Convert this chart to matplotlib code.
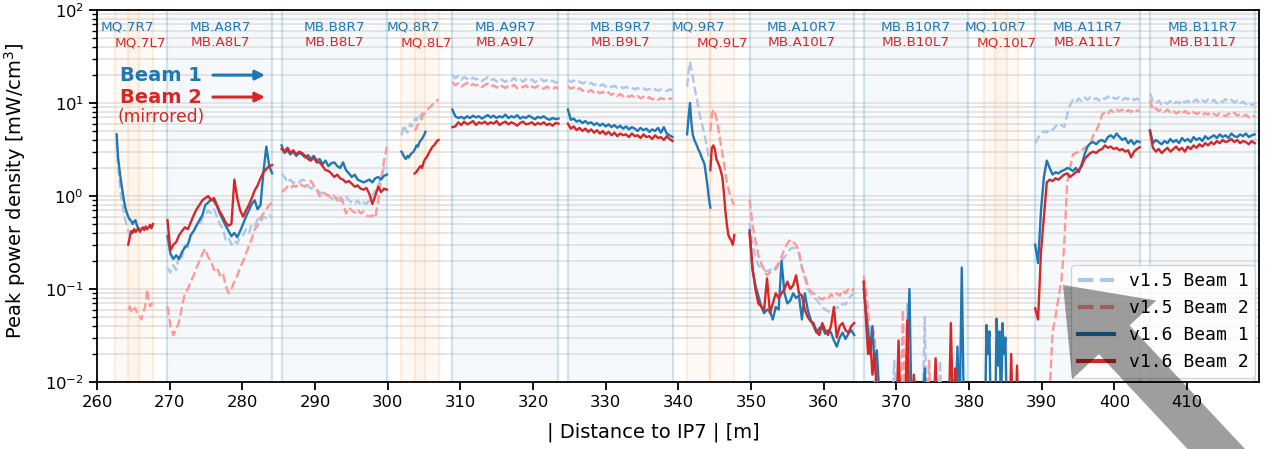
import numpy as np
import matplotlib
matplotlib.use("Agg")
import matplotlib.pyplot as plt
from matplotlib.patches import FancyArrow
from matplotlib.transforms import IdentityTransform, blended_transform_factory

# ---- element layout [m from IP7] ----
dipoles = [("A8", 269.7, 284.1), ("B8", 285.4, 299.9),
           ("A9", 308.9, 323.5), ("B9", 324.8, 339.2),
           ("A10", 349.8, 364.2), ("B10", 365.5, 379.9),
           ("A11", 389.1, 403.5), ("B11", 404.9, 419.3)]
quads_r7 = [("MQ.7R7", 262.5, 265.8), ("MQ.8R7", 301.9, 305.2),
            ("MQ.9R7", 341.2, 344.4), ("MQ.10R7", 382.0, 385.2)]
quads_l7 = [("MQ.7L7", 264.3, 267.7), ("MQ.8L7", 303.7, 307.0),
            ("MQ.9L7", 344.4, 347.7), ("MQ.10L7", 383.6, 386.8)]

# ---- peak power density [mW/cm3], evenly sampled between (start, end) ----
v15_b1 = [
    (262.7, 265.7, [3.8, 2.0, 1.4, 1.0, 0.8, 0.65, 0.55, 0.48, 0.42, 0.38,
                    0.4, 0.43, 0.41, 0.44, 0.4, 0.42]),
    (269.7, 284.1, [0.17, 0.15, 0.18, 0.16, 0.24, 0.22, 0.3, 0.28, 0.38, 0.42,
                    0.5, 0.48, 0.58, 0.62, 0.7, 0.65, 0.72, 0.6, 0.5, 0.45,
                    0.34, 0.36, 0.3, 0.33, 0.31, 0.36, 0.38, 0.44, 0.4, 0.5,
                    0.48, 0.56, 0.52, 0.6, 0.58, 0.62, 0.58]),
    (285.4, 299.9, [1.75, 1.6, 1.4, 1.5, 1.38, 1.45, 1.4, 1.5, 1.46, 1.3,
                    1.2, 1.25, 1.17, 1.1, 1.05, 0.99, 1.02, 0.95, 0.91, 0.95,
                    0.88, 0.91, 0.99, 0.9, 0.85, 0.82, 0.9, 0.8, 0.85, 0.82,
                    0.9, 1.0, 1.15, 1.3, 1.6, 2.0, 2.2]),
    (301.9, 305.2, [4.5, 5.2, 5.8, 5.0, 4.8, 5.5, 6.0, 5.6, 6.2, 6.8,
                    6.5, 7.2, 7.6, 7.0, 7.8, 8.2, 8.0]),
    (308.9, 323.5, [20, 18.5, 19.5, 17.8, 19.0, 18.2, 17.5, 18.8, 17.9, 18.5,
                    17.2, 18.0, 19.0, 17.5, 18.2, 17.0, 18.3, 17.6, 16.8, 18.0,
                    17.4, 18.6, 17.1, 17.8, 16.9, 18.1, 17.3, 17.9, 16.7, 17.5,
                    18.2, 17.0, 17.6, 16.8, 17.4, 16.5, 17.0]),
    (324.8, 339.2, [17.7, 16.8, 17.5, 16.5, 17.0, 16.2, 16.8, 15.9, 16.5, 15.6,
                    16.1, 15.3, 15.9, 15.0, 15.6, 14.8, 15.3, 14.6, 15.1, 14.4,
                    14.9, 14.3, 14.7, 14.0, 14.5, 13.9, 14.4, 13.8, 14.2, 13.6,
                    14.1, 13.5, 14.0, 13.8, 13.4, 14.0, 13.8]),
    (341.2, 344.4, [15, 22, 27.7, 23, 19, 15, 12.5, 10.5, 8.5, 7.1,
                    6.2, 5.3, 4.6, 3.8, 3.1, 2.6, 2.25]),
    (349.8, 364.2, [0.51, 0.3, 0.22, 0.18, 0.17, 0.16, 0.155, 0.16, 0.17, 0.16,
                    0.18, 0.2, 0.22, 0.24, 0.27, 0.28, 0.27, 0.24, 0.17, 0.13,
                    0.1, 0.09, 0.082, 0.077, 0.07, 0.064, 0.06, 0.058, 0.055, 0.06,
                    0.064, 0.062, 0.07, 0.068, 0.078, 0.085, 0.09]),
    (365.5, 379.9, [0.12, 0.07, 0.04, 0.025, 0.035, 0.012, 0.004, 0.004, 0.004, 0.004,
                    0.004, 0.004, 0.004, 0.004, 0.017, 0.004, 0.004, 0.004, 0.004, 0.004,
                    0.07, 0.004, 0.004, 0.004, 0.004, 0.004, 0.004, 0.004, 0.05, 0.004,
                    0.004, 0.004, 0.004, 0.004, 0.004, 0.017, 0.004, 0.004, 0.004, 0.004,
                    0.004, 0.004, 0.004, 0.004, 0.004, 0.004, 0.004, 0.004, 0.004]),
    (389.1, 403.5, [3.7, 4.2, 4.7, 5.0, 4.8, 5.3, 5.1, 5.6, 6.0, 5.8,
                    5.5, 7.5, 9.5, 10.8, 10.2, 11.2, 10.5, 11.5, 10.8, 11.6,
                    10.9, 11.3, 10.6, 11.5, 11.0, 11.8, 10.9, 11.4, 11.0, 11.7,
                    10.8, 11.3, 11.0, 11.6, 10.7, 11.2, 10.5]),
    (404.9, 419.3, [12.8, 10.5, 9.9, 10.6, 9.6, 10.2, 9.8, 10.5, 9.7, 10.3,
                    9.9, 10.8, 10.1, 10.6, 9.8, 10.4, 10.9, 10.0, 10.7, 10.2,
                    10.9, 10.3, 10.8, 9.9, 10.6, 10.2, 11.0, 10.4, 10.8, 10.1,
                    10.6, 9.9, 10.4, 9.7, 10.1, 9.5, 9.8]),
]

v15_b2 = [
    (264.3, 267.7, [0.06, 0.065, 0.058, 0.063, 0.06, 0.062, 0.056, 0.052, 0.05, 0.047,
                    0.055, 0.06, 0.07, 0.1, 0.075, 0.065, 0.07, 0.068]),
    (269.7, 284.1, [0.065, 0.04, 0.032, 0.037, 0.045, 0.065, 0.09, 0.1, 0.12, 0.14,
                    0.17, 0.2, 0.24, 0.27, 0.22, 0.2, 0.16, 0.17, 0.14, 0.15,
                    0.11, 0.09, 0.1, 0.12, 0.14, 0.17, 0.2, 0.24, 0.29, 0.35,
                    0.44, 0.48, 0.58, 0.65, 0.72, 0.8, 0.85]),
    (285.4, 299.9, [1.1, 1.17, 1.26, 1.2, 1.3, 1.26, 1.38, 1.3, 1.26, 1.35,
                    1.46, 1.3, 1.17, 0.99, 1.1, 1.06, 1.0, 1.06, 1.0, 0.9,
                    1.0, 0.85, 0.65, 0.75, 0.7, 0.66, 0.72, 0.65, 0.68, 0.62,
                    0.6, 0.62, 0.58, 0.9, 1.5, 2.4, 3.4]),
    (303.7, 307.0, [5.0, 5.3, 5.8, 6.0, 6.5, 7.0, 7.5, 7.8, 8.2, 8.6,
                    9.0, 9.3, 9.6, 10.0, 10.3, 10.6, 11.0]),
    (308.9, 323.5, [16.9, 15.5, 16.3, 15.0, 15.8, 16.5, 15.2, 16.0, 15.4, 15.9,
                    14.8, 15.6, 16.2, 15.0, 15.5, 14.6, 15.8, 15.1, 14.5, 15.4,
                    15.0, 15.7, 14.4, 15.2, 14.8, 15.5, 14.3, 15.0, 14.6, 15.3,
                    14.7, 14.2, 15.0, 14.5, 14.0, 14.8, 14.3]),
    (324.8, 339.2, [15.3, 14.2, 14.8, 13.8, 14.5, 13.5, 14.0, 13.2, 13.8, 12.9,
                    13.5, 12.7, 13.2, 12.4, 13.0, 12.2, 12.8, 11.9, 12.5, 11.8,
                    12.3, 11.6, 12.1, 11.4, 11.9, 11.2, 11.7, 11.0, 11.6, 10.9,
                    11.4, 10.8, 11.3, 11.0, 11.5, 11.1, 11.2]),
    (344.4, 347.7, [5.0, 7.5, 8.5, 8.0, 6.8, 5.6, 4.5, 3.6, 2.9, 2.3,
                    1.8, 1.4, 1.2, 1.05, 0.95, 0.85, 0.8]),
    (349.8, 364.2, [0.91, 0.5, 0.33, 0.23, 0.19, 0.16, 0.14, 0.15, 0.16, 0.17,
                    0.19, 0.22, 0.27, 0.31, 0.34, 0.32, 0.3, 0.25, 0.17, 0.14,
                    0.11, 0.095, 0.09, 0.085, 0.08, 0.077, 0.082, 0.078, 0.088, 0.082,
                    0.09, 0.085, 0.097, 0.09, 0.1, 0.095, 0.1]),
    (365.5, 379.9, [0.14, 0.1, 0.06, 0.03, 0.04, 0.03, 0.012, 0.004, 0.004, 0.004,
                    0.004, 0.004, 0.004, 0.004, 0.004, 0.004, 0.004, 0.004, 0.06, 0.004,
                    0.004, 0.004, 0.004, 0.004, 0.004, 0.004, 0.004, 0.004, 0.004, 0.004,
                    0.017, 0.004, 0.004, 0.004, 0.004, 0.004, 0.004, 0.004, 0.004, 0.004,
                    0.004, 0.004, 0.004, 0.004, 0.004, 0.004, 0.004, 0.004, 0.004]),
    (389.1, 403.5, [0.004, 0.004, 0.004, 0.004, 0.004, 0.008, 0.035, 0.05, 0.08, 0.12,
                    0.3, 1.4, 2.0, 2.8, 2.9, 3.0, 3.1, 3.3, 3.4, 3.6,
                    4.5, 5.0, 6.0, 7.5, 8.0, 7.6, 8.4, 8.0, 8.6, 8.1,
                    8.5, 7.9, 8.4, 8.0, 8.6, 8.2, 8.4]),
    (404.9, 419.3, [10.8, 8.4, 8.8, 8.2, 8.6, 8.0, 8.5, 7.9, 8.3, 7.7,
                    8.1, 7.6, 8.2, 7.8, 7.5, 8.0, 7.6, 7.9, 7.4, 7.8,
                    7.5, 8.0, 7.6, 7.3, 7.8, 7.5, 7.2, 7.7, 7.4, 7.9,
                    7.3, 7.6, 7.2, 7.5, 7.0, 7.4, 7.2]),
]

v16_b1 = [
    (262.7, 265.7, [4.6, 2.6, 1.9, 1.45, 1.15, 0.9, 0.75, 0.66, 0.6, 0.56,
                    0.54, 0.5, 0.53, 0.55, 0.48, 0.45]),
    (269.7, 284.1, [0.37, 0.24, 0.21, 0.23, 0.21, 0.25, 0.28, 0.3, 0.38, 0.42,
                    0.48, 0.55, 0.62, 0.8, 0.85, 0.92, 0.88, 0.78, 0.65, 0.56,
                    0.48, 0.42, 0.37, 0.4, 0.36, 0.42, 0.5, 0.6, 0.7, 0.82,
                    0.9, 0.72, 0.8, 1.8, 3.4, 2.1, 1.75]),
    (285.4, 299.9, [3.5, 2.9, 3.1, 2.8, 3.0, 2.7, 2.9, 2.8, 2.6, 2.75,
                    2.5, 2.7, 2.4, 2.5, 2.2, 2.4, 2.1, 2.25, 2.3, 2.1,
                    2.0, 2.3, 1.9, 1.75, 1.6, 1.7, 1.5, 1.45, 1.4, 1.45,
                    1.5, 1.4, 1.55, 1.6, 1.5, 1.65, 1.7]),
    (301.9, 305.2, [3.0, 2.8, 2.6, 2.5, 2.7, 2.6, 2.8, 2.9, 3.0, 3.2,
                    3.5, 3.4, 3.8, 4.0, 4.2, 4.5, 4.9]),
    (308.9, 323.5, [8.5, 7.2, 6.9, 7.1, 6.8, 7.2, 6.9, 7.3, 7.0, 7.2,
                    6.8, 7.1, 7.4, 7.0, 7.3, 6.9, 7.2, 7.0, 7.5, 6.9,
                    7.2, 7.0, 7.4, 6.8, 7.1, 6.9, 7.3, 7.0, 6.7, 7.1,
                    6.9, 7.2, 6.8, 6.6, 6.9, 6.7, 6.8]),
    (324.8, 339.2, [8.5, 6.6, 6.8, 6.3, 6.5, 6.1, 6.4, 6.0, 6.2, 5.8,
                    6.1, 5.7, 6.0, 5.6, 5.9, 5.5, 5.8, 5.4, 5.7, 5.3,
                    5.6, 5.2, 5.5, 5.3, 5.0, 5.4, 5.1, 5.3, 4.9, 5.2,
                    5.0, 5.4, 4.8, 5.5, 4.7, 4.5, 4.3]),
    (341.2, 344.4, [4.6, 7.0, 10.0, 6.0, 4.5, 4.0, 3.7, 3.4, 3.1, 2.9,
                    2.6, 2.4, 2.2, 1.7, 1.3, 0.95, 0.75]),
    (349.8, 364.2, [0.43, 0.16, 0.11, 0.085, 0.065, 0.055, 0.06, 0.058, 0.047, 0.064,
                    0.06, 0.2, 0.09, 0.07, 0.075, 0.09, 0.08, 0.085, 0.047, 0.09,
                    0.06, 0.047, 0.04, 0.034, 0.038, 0.039, 0.033, 0.036, 0.034, 0.028,
                    0.024, 0.03, 0.034, 0.029, 0.033, 0.036, 0.032]),
    (365.5, 379.9, [0.1, 0.06, 0.035, 0.02, 0.04, 0.015, 0.022, 0.009, 0.004, 0.004,
                    0.004, 0.004, 0.004, 0.004, 0.004, 0.004, 0.004, 0.004, 0.004, 0.004,
                    0.02, 0.1, 0.004, 0.004, 0.004, 0.004, 0.004, 0.004, 0.014, 0.004,
                    0.004, 0.004, 0.004, 0.004, 0.004, 0.004, 0.004, 0.004, 0.004, 0.004,
                    0.004, 0.004, 0.004, 0.024, 0.004, 0.17, 0.004, 0.004, 0.004]),
    (382.0, 385.2, [0.004, 0.004, 0.041, 0.02, 0.035, 0.004, 0.004, 0.004, 0.004, 0.048,
                    0.015, 0.035, 0.004, 0.043, 0.02, 0.03, 0.004]),
    (389.1, 403.5, [0.3, 0.19, 0.7, 1.6, 2.4, 2.0, 1.7, 1.8, 1.75, 1.85,
                    1.9, 2.0, 1.95, 1.85, 2.0, 1.8, 2.2, 2.8, 3.4, 3.7,
                    3.8, 3.6, 3.9, 4.0, 3.8, 4.3, 4.5, 4.2, 4.7, 4.3,
                    4.0, 4.2, 3.7, 4.0, 3.6, 3.9, 3.8]),
    (404.9, 419.3, [5.1, 3.7, 4.0, 3.8, 3.6, 3.9, 3.7, 4.1, 3.8, 4.0,
                    3.7, 4.2, 3.9, 4.1, 3.8, 4.3, 4.0, 4.2, 3.9, 4.4,
                    4.1, 4.3, 4.5, 4.2, 4.6, 4.3, 4.5, 4.2, 4.7, 4.4,
                    4.3, 4.6, 4.4, 4.7, 4.3, 4.5, 4.6]),
]

v16_b2 = [
    (264.3, 267.7, [0.3, 0.36, 0.42, 0.4, 0.44, 0.41, 0.43, 0.45, 0.41, 0.44,
                    0.46, 0.43, 0.47, 0.44, 0.46, 0.49, 0.45, 0.5]),
    (269.7, 284.1, [0.55, 0.26, 0.3, 0.32, 0.38, 0.42, 0.46, 0.44, 0.52, 0.62,
                    0.72, 0.8, 0.9, 0.95, 1.0, 0.9, 0.95, 0.8, 0.68, 0.6,
                    0.52, 0.48, 0.5, 1.5, 0.95, 0.7, 0.6, 0.7, 0.8, 0.95,
                    1.15, 1.3, 1.55, 1.8, 1.95, 2.1, 2.15]),
    (285.4, 299.9, [3.2, 3.0, 3.3, 2.9, 3.1, 2.8, 3.0, 2.9, 2.7, 2.5,
                    2.4, 2.6, 2.3, 2.3, 2.1, 1.9, 1.86, 1.75, 1.6, 1.7,
                    1.55, 1.5, 1.4, 1.45, 1.35, 1.26, 1.3, 1.2, 1.17, 1.22,
                    1.05, 0.82, 1.0, 1.26, 1.1, 1.2, 1.17]),
    (303.7, 307.0, [1.75, 1.8, 1.9, 2.0, 2.1, 2.0, 2.3, 2.5, 2.6, 2.8,
                    3.0, 3.2, 3.4, 3.5, 3.7, 3.9, 4.0]),
    (308.9, 323.5, [5.5, 5.6, 6.2, 5.8, 6.3, 5.9, 6.1, 6.4, 5.8, 6.2,
                    6.0, 6.3, 5.9, 6.2, 6.0, 6.4, 5.8, 6.1, 6.3, 5.9,
                    6.2, 6.0, 5.7, 6.1, 6.3, 5.9, 6.0, 6.2, 5.8, 6.1,
                    5.9, 6.2, 5.8, 6.0, 5.7, 6.1, 6.0]),
    (324.8, 339.2, [6.0, 5.3, 5.6, 5.1, 5.4, 5.0, 5.3, 4.9, 5.2, 4.8,
                    5.1, 4.7, 5.0, 4.6, 4.9, 4.5, 4.8, 4.4, 4.7, 4.5,
                    4.6, 4.3, 4.7, 4.4, 4.5, 4.2, 4.6, 4.3, 4.4, 4.1,
                    4.5, 4.2, 4.3, 4.0, 4.4, 4.1, 3.9]),
    (344.4, 347.7, [1.9, 3.3, 3.5, 3.2, 2.5, 2.3, 2.1, 1.85, 1.6, 1.1,
                    0.7, 0.5, 0.38, 0.35, 0.33, 0.3, 0.38]),
    (349.8, 364.2, [0.4, 0.17, 0.1, 0.07, 0.065, 0.06, 0.13, 0.055, 0.07, 0.09,
                    0.08, 0.09, 0.1, 0.12, 0.1, 0.11, 0.14, 0.09, 0.085, 0.06,
                    0.05, 0.045, 0.043, 0.035, 0.032, 0.043, 0.036, 0.032, 0.04, 0.064,
                    0.03, 0.04, 0.043, 0.036, 0.034, 0.04, 0.043]),
    (365.5, 379.9, [0.12, 0.05, 0.02, 0.03, 0.012, 0.02, 0.008, 0.004, 0.004, 0.004,
                    0.004, 0.004, 0.004, 0.004, 0.004, 0.004, 0.028, 0.004, 0.004, 0.004,
                    0.046, 0.004, 0.004, 0.012, 0.004, 0.004, 0.004, 0.004, 0.004, 0.004,
                    0.004, 0.004, 0.004, 0.018, 0.004, 0.004, 0.004, 0.004, 0.004, 0.004,
                    0.043, 0.004, 0.014, 0.004, 0.004, 0.004, 0.004, 0.004, 0.004]),
    (383.6, 386.8, [0.004, 0.004, 0.004, 0.004, 0.004, 0.004, 0.004, 0.004, 0.004, 0.004,
                    0.004, 0.02, 0.004, 0.004, 0.004, 0.015, 0.004]),
    (389.1, 403.5, [0.062, 0.047, 0.25, 0.6, 1.4, 1.5, 1.45, 1.55, 1.5, 1.6,
                    1.7, 1.75, 1.6, 1.7, 1.8, 1.9, 2.1, 2.5, 2.7, 2.9,
                    3.0, 2.9, 3.1, 3.2, 3.5, 3.3, 3.4, 3.2, 3.3, 3.1,
                    3.2, 3.0, 3.1, 2.6, 3.0, 3.2, 3.35]),
    (404.9, 419.3, [4.9, 3.3, 3.0, 3.2, 2.9, 3.1, 3.3, 3.0, 3.2, 3.4,
                    3.1, 3.3, 3.0, 3.4, 3.2, 3.5, 3.3, 3.6, 3.4, 3.7,
                    3.5, 3.8, 3.6, 3.9, 3.7, 4.0, 3.8, 3.9, 4.1, 3.8,
                    4.0, 3.7, 3.9, 3.8, 3.6, 3.9, 3.7]),
]

C_B1, C_B2 = '#1f77b4', '#d62728'
C_B1_OLD, C_B2_OLD = '#aec7e8', '#ff9896'


def stitch(segments):
    ## join the element segments, NaN breaks the line between them
    xs, ys = [], []
    for s0, s1, vals in segments:
        xs += list(np.linspace(s0, s1, len(vals))) + [np.nan]
        ys += list(vals) + [np.nan]
    return np.array(xs), np.array(ys)


fig = plt.figure(figsize=(12.65, 4.49), dpi=100)
ax = fig.add_axes([97/1265, 67/449, 1162/1265, 372/449])

## element shading
for name, s0, s1 in dipoles:
    ax.axvspan(s0, s1, color=C_B1, alpha=0.04, lw=0, zorder=0.5)
    for s in (s0, s1):
        ax.axvline(s, color=C_B1, alpha=0.2, lw=1.6, zorder=0.6)
for name, s0, s1 in quads_r7 + quads_l7:
    ax.axvspan(s0, s1, color='tab:orange', alpha=0.04, lw=0, zorder=0.5)
    for s in (s0, s1):
        ax.axvline(s, color='tab:orange', alpha=0.12, lw=1.6, zorder=0.6)

## element names
trans = blended_transform_factory(ax.transData, ax.transAxes)
for name, s0, s1 in dipoles:
    ax.text((s0+s1)/2, 0.953, f"MB.{name}R7", color=C_B1, fontsize=9.7,
            ha='center', va='center', transform=trans)
    ax.text((s0+s1)/2, 0.912, f"MB.{name}L7", color=C_B2, fontsize=9.7,
            ha='center', va='center', transform=trans)
for name, s0, s1 in quads_r7:
    ax.text((s0+s1)/2, 0.953, name, color=C_B1, fontsize=9.7,
            ha='center', va='center', transform=trans)
for name, s0, s1 in quads_l7:
    ax.text((s0+s1)/2, 0.912, name, color=C_B2, fontsize=9.7,
            ha='center', va='center', transform=trans)

## data
for segs, col, ls, lab in [(v15_b1, C_B1_OLD, '--', 'v1.5 Beam 1'),
                           (v15_b2, C_B2_OLD, '--', 'v1.5 Beam 2'),
                           (v16_b1, C_B1, '-', 'v1.6 Beam 1'),
                           (v16_b2, C_B2, '-', 'v1.6 Beam 2')]:
    x, y = stitch(segs)
    ax.plot(x, y, ls=ls, color=col, lw=1.7, label=lab, zorder=3)

ax.set_yscale('log')
ax.set_ylim(1e-2, 1e2)
ax.set_xlim(260, 419.9)
ax.set_xticks(np.arange(260, 411, 10))

ax.grid(which='both', axis='y', color='0.87', lw=1.1)
ax.set_axisbelow(True)

ax.tick_params(axis='both', which='major', labelsize=11.8, length=6, width=1.3)
ax.tick_params(axis='y', which='minor', length=3.5, width=1.0)
for sp in ax.spines.values():
    sp.set_linewidth(1.3)

ax.set_ylabel('Peak power density [mW/cm$^3$]', fontsize=14)
ax.set_xlabel('| Distance to IP7 | [m]', fontsize=14)
ax.yaxis.set_label_coords(-0.059, 0.514)
ax.xaxis.set_label_coords(0.479, -0.109)

## beam direction markers
ax.text(0.0198, 0.825, 'Beam 1', color=C_B1, fontsize=14, fontweight='bold',
        ha='left', va='center', transform=ax.transAxes)
ax.text(0.0198, 0.766, 'Beam 2', color=C_B2, fontsize=14, fontweight='bold',
        ha='left', va='center', transform=ax.transAxes)
ax.text(0.0555, 0.712, '(mirrored)', color=C_B2, fontsize=12.3,
        ha='center', va='center', transform=ax.transAxes)
for yy, col in [(0.825, C_B1), (0.766, C_B2)]:
    ax.annotate('', xy=(0.1446, yy), xytext=(0.0998, yy), xycoords='axes fraction',
                arrowprops=dict(arrowstyle='-|>', color=col, lw=2.2,
                                mutation_scale=14, shrinkA=0, shrinkB=0))

leg = ax.legend(loc='lower right', prop={'family': 'DejaVu Sans Mono', 'size': 13},
                borderaxespad=0.2, framealpha=0.8)
for ln in leg.get_lines():
    ln.set_linewidth(3.0)

## grey pointer overlay
fig.add_artist(FancyArrow(1235, -20, -172, 184, width=42, head_width=115,
                          head_length=75, length_includes_head=True,
                          color='black', alpha=0.38, lw=0,
                          transform=IdentityTransform(), zorder=10))

fig.savefig('out.png', dpi=100)
